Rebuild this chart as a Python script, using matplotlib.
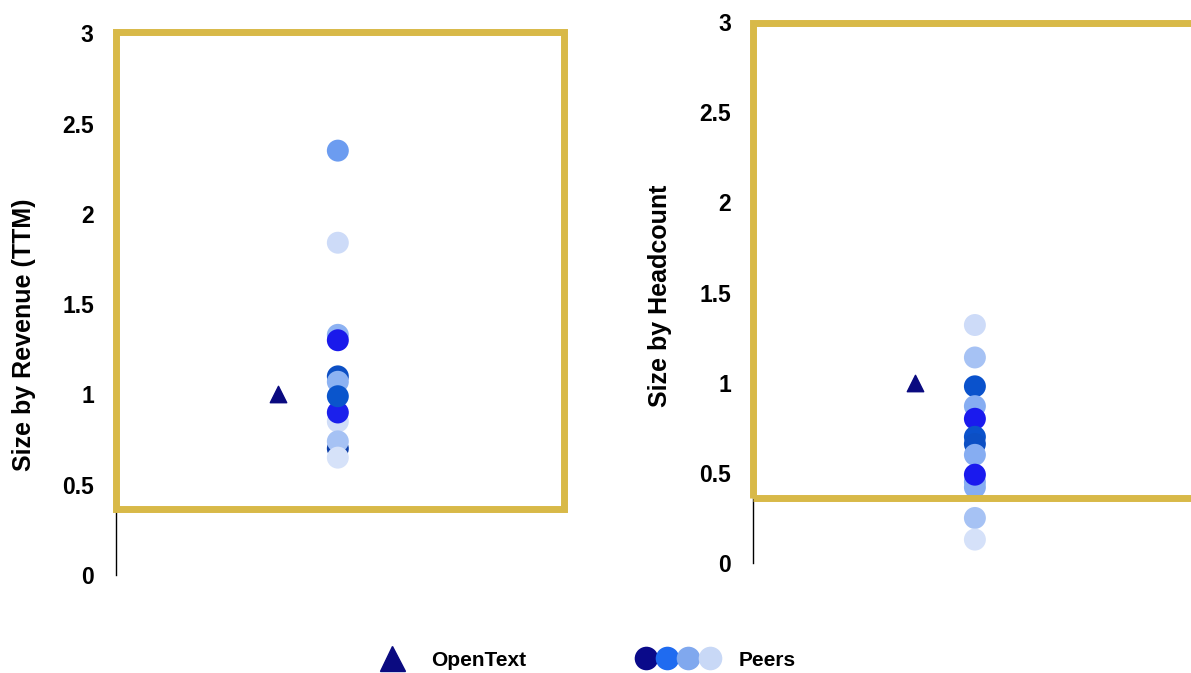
import matplotlib
matplotlib.use('Agg')
import matplotlib.pyplot as plt
from matplotlib.patches import Rectangle
from matplotlib.lines import Line2D
from matplotlib.legend_handler import HandlerTuple

plt.rcParams['font.family'] = ['Liberation Sans', 'DejaVu Sans']

# ─── Data ─────────────────────────────────────────────────────────────────────
COMPANY = "OpenText"
COMPANY_VALUE = 1.0

rev_values = [2.35, 1.84, 1.33, 1.30, 1.10, 1.07, 0.85, 0.90, 0.99, 0.70, 0.74, 0.65]
rev_colors = ['#6c9cf0', '#cddbf8', '#8db2f2', '#1a1aeb', '#0c4fc4', '#8cb2f2',
              '#d0ddf8', '#1b20ec', '#0a55cc', '#0d3fa8', '#a6c2f4', '#d6e2f9']

hc_values = [1.32, 1.14, 0.98, 0.87, 0.80, 0.70, 0.66, 0.60, 0.45, 0.42, 0.49, 0.25, 0.13]
hc_colors = ['#cddbf8', '#a6c2f4', '#0a52cc', '#86adf2', '#1a1aee', '#0b52cc',
             '#0c4fc4', '#86adf2', '#86adf2', '#86adf2', '#1a1aee', '#a6c2f4', '#d5e1f9']

y_ticks = [0, 0.5, 1, 1.5, 2, 2.5, 3]
y_ticklabels = ['0', '0.5', '1', '1.5', '2', '2.5', '3']

legend_colors = ['#0a0a8a', '#1f6bf0', '#80a8ee', '#c8d8f6']

GOLD = '#D8B948'
NAVY = '#0a0a80'

fig = plt.figure(figsize=(11.91, 6.73), dpi=100)
fig.patch.set_facecolor('white')

panels = [
    (fig.add_axes([0.0974, 0.1456, 0.376, 0.805]), rev_values, rev_colors,
     "Size by Revenue (TTM)", (0.365, 3.005), (-0.178, 0.443)),
    (fig.add_axes([0.6323, 0.1634, 0.376, 0.8038]), hc_values, hc_colors,
     "Size by Headcount", (0.36, 2.995), (-0.181, 0.494)),
]

for ax, vals, cols, label, (box_lo, box_hi), lab_xy in panels:
    ax.scatter([0], [COMPANY_VALUE], marker='^', s=140, color=NAVY, zorder=3)
    ax.scatter([1] * len(vals), vals, s=250, c=cols, edgecolors='none', zorder=3)

    ax.set_xlim(-2.73, 4.8)
    ax.set_ylim(0, 3)
    ax.set_xticks([])
    ax.set_yticks(y_ticks)
    ax.set_yticklabels(y_ticklabels, fontsize=16.5, fontweight='bold')
    ax.tick_params(axis='y', length=0, pad=16)
    for side in ['top', 'right', 'bottom']:
        ax.spines[side].set_visible(False)
    ax.spines['left'].set_color('black')
    ax.spines['left'].set_linewidth(1.0)

    ax.set_ylabel(label, fontsize=18, fontweight='bold')
    ax.yaxis.set_label_coords(*lab_xy)

    # highlight box
    ax.add_patch(Rectangle((0, box_lo), 1.0, box_hi - box_lo,
                           transform=ax.get_yaxis_transform(), fill=False,
                           edgecolor=GOLD, linewidth=5, zorder=4, clip_on=False))

# ─── Legend ───────────────────────────────────────────────────────────────────
tri = Line2D([], [], marker='^', linestyle='none', color=NAVY, markersize=18)
dots = tuple(Line2D([], [], marker='o', linestyle='none', color=c,
                    markeredgecolor='none', markersize=17) for c in legend_colors)
leg_kw = dict(frameon=False, prop={'size': 15, 'weight': 'bold'},
              borderpad=0, borderaxespad=0, loc='center left')
fig.legend([tri], [COMPANY], handlelength=2.0, handletextpad=0.9,
           bbox_to_anchor=(371 / 1191, 0.019), **leg_kw)
fig.legend([dots], ["Peers"], handler_map={tuple: HandlerTuple(ndivide=None, pad=0)},
           handlelength=4.1, handletextpad=0.85,
           bbox_to_anchor=(635 / 1191, 0.019), **leg_kw)

plt.savefig('out.png', dpi=100, facecolor='white')
plt.close()
